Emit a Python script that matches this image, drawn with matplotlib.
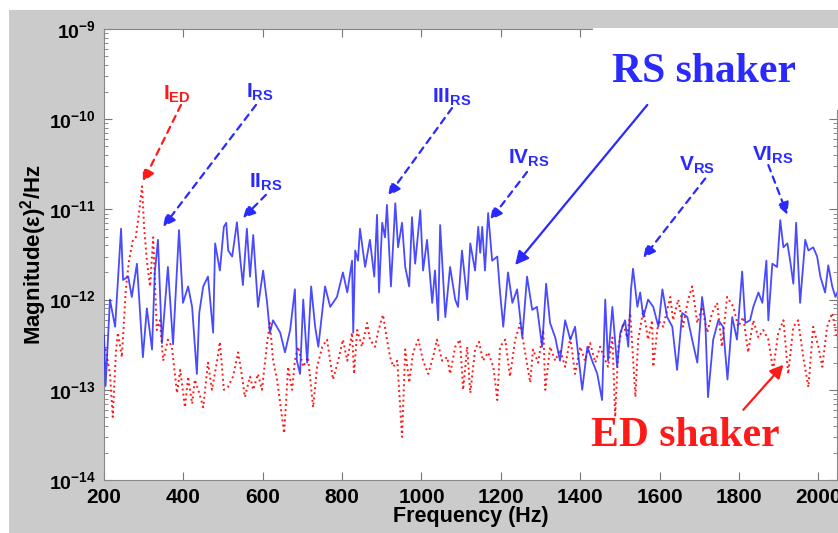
import numpy as np
import matplotlib
matplotlib.use("Agg")
import matplotlib.pyplot as plt
from matplotlib.ticker import FixedLocator, FuncFormatter, LogLocator, NullFormatter
from matplotlib.patches import Rectangle

plt.rcParams['font.family'] = ['Liberation Sans', 'DejaVu Sans']
plt.rcParams['mathtext.fontset'] = 'custom'
plt.rcParams['mathtext.rm'] = 'Liberation Sans:bold'
plt.rcParams['mathtext.bf'] = 'Liberation Sans:bold'
plt.rcParams['mathtext.it'] = 'Liberation Sans:bold'

# RS shaker spectrum (blue, solid)
rs_freq = [200, 204, 215, 228, 243, 248, 261, 270, 283, 298, 308, 321, 328, 336, 346,
           361, 374, 389, 399, 412, 422, 434, 440, 450, 462, 475, 480, 492, 502, 508,
           513, 523, 535, 543, 550, 560, 568, 576, 588, 601, 611, 618, 626, 644, 656,
           669, 681, 686, 694, 702, 712, 722, 732, 740, 757, 770, 777, 787, 802, 813,
           825, 828, 833, 840, 845, 858, 870, 881, 888, 893, 901, 908, 913, 923, 934,
           941, 951, 959, 969, 976, 984, 997, 1004, 1014, 1027, 1034, 1042, 1047, 1060, 1072,
           1085, 1092, 1102, 1115, 1123, 1135, 1143, 1148, 1153, 1160, 1168, 1178, 1191, 1198, 1206,
           1218, 1229, 1241, 1254, 1266, 1279, 1291, 1304, 1314, 1324, 1337, 1349, 1362, 1375, 1387,
           1405, 1418, 1430, 1443, 1455, 1463, 1470, 1481, 1493, 1501, 1513, 1521, 1528, 1533, 1544,
           1551, 1559, 1571, 1584, 1597, 1607, 1619, 1632, 1644, 1657, 1670, 1682, 1695, 1707, 1715,
           1722, 1735, 1748, 1760, 1771, 1783, 1795, 1808, 1816, 1828, 1836, 1849, 1859, 1869, 1874,
           1884, 1896, 1904, 1912, 1922, 1929, 1937, 1944, 1954, 1967, 1975, 1987, 1997, 2005, 2017,
           2025, 2035, 2043, 2048]
rs_mag = [4.0e-13, 1.1e-13, 1.0e-12, 5.0e-13, 6.1e-12, 1.65e-12, 1.8e-12, 1.07e-12, 2.5e-12, 2.3e-13,
          8.0e-13, 2.8e-13, 2.0e-12, 4.6e-12, 3.3e-13, 2.3e-12, 3.2e-13, 5.9e-12, 9.2e-13, 1.4e-12,
          8.3e-13, 1.5e-13, 7.1e-13, 1.4e-12, 1.8e-12, 4.3e-13, 4.2e-12, 2.1e-12, 6.4e-12, 7.1e-12,
          3.5e-12, 3.0e-12, 7.2e-12, 2.9e-12, 1.45e-12, 6.1e-12, 1.8e-12, 5.2e-12, 8.3e-13, 2.1e-12,
          9.2e-13, 4.3e-13, 5.9e-13, 4.3e-13, 2.6e-13, 4.6e-13, 1.3e-12, 2.1e-13, 1.5e-13, 1.0e-12,
          2.0e-13, 1.4e-12, 5.0e-13, 3.0e-13, 1.4e-12, 8.3e-13, 9.2e-13, 1.07e-12, 2.0e-12, 1.2e-12,
          2.7e-12, 4.3e-13, 3.5e-12, 2.7e-12, 6.1e-12, 2.3e-12, 4.6e-12, 1.8e-12, 8.7e-12, 1.2e-12,
          7.1e-12, 4.9e-12, 1.12e-11, 1.4e-12, 1.17e-11, 3.8e-12, 7.1e-12, 2.3e-12, 1.4e-12, 8.2e-12,
          2.5e-12, 9.8e-12, 2.1e-12, 4.6e-12, 9.2e-13, 2.1e-12, 5.9e-13, 6.7e-12, 6.4e-13, 2.3e-12,
          1.0e-12, 8.3e-13, 3.5e-12, 1.0e-12, 4.2e-12, 2.1e-12, 6.4e-12, 3.3e-12, 6.4e-12, 2.1e-12,
          9.1e-12, 2.7e-12, 3.0e-12, 1.2e-12, 5.0e-13, 2.0e-12, 9.2e-13, 1.3e-12, 3.8e-13, 1.8e-12,
          7.7e-13, 8.3e-13, 3.0e-13, 1.5e-12, 5.5e-13, 3.8e-13, 2.1e-13, 5.9e-13, 3.6e-13, 5.0e-13,
          1.0e-13, 3.0e-13, 2.1e-13, 1.5e-13, 7.7e-14, 1.0e-12, 2.1e-13, 8.3e-13, 1.8e-13, 4.3e-13,
          5.9e-13, 3.0e-13, 1.3e-12, 2.2e-12, 8.3e-13, 1.2e-12, 6.4e-13, 1.0e-12, 8.3e-13, 5.0e-13,
          1.3e-12, 6.4e-13, 5.0e-13, 1.66e-13, 7.1e-13, 6.4e-13, 3.6e-13, 2.0e-13, 1.07e-12, 5.9e-13,
          8.3e-14, 3.6e-13, 5.9e-13, 5.0e-13, 1.3e-13, 6.4e-13, 3.6e-13, 2.05e-12, 5.5e-13, 5.9e-13,
          8.3e-13, 1.2e-12, 9.2e-13, 2.7e-12, 5.9e-13, 2.5e-12, 2.3e-12, 7.6e-12, 3.8e-12, 4.2e-12,
          2.7e-12, 1.5e-12, 7.1e-12, 9.2e-13, 4.6e-12, 3.5e-12, 3.8e-12, 3.0e-12, 1.8e-12, 1.2e-12,
          2.4e-12, 1.4e-12, 1.07e-12, 1.2e-12]

# ED shaker spectrum (red, dotted)
ed_freq = [200, 203, 215, 222, 230, 235, 245, 255, 263, 273, 280, 286, 296, 301, 308,
           316, 324, 333, 341, 349, 361, 371, 384, 392, 404, 412, 422, 429, 440, 450,
           462, 472, 485, 492, 502, 512, 525, 538, 548, 555, 568, 576, 588, 598, 611,
           618, 626, 636, 644, 654, 664, 674, 681, 689, 702, 714, 727, 737, 750, 762,
           770, 777, 790, 802, 813, 825, 830, 838, 850, 863, 870, 883, 890, 903, 913,
           921, 929, 939, 951, 959, 969, 979, 992, 1004, 1017, 1029, 1039, 1052, 1065, 1072,
           1085, 1097, 1105, 1115, 1123, 1135, 1145, 1155, 1168, 1181, 1191, 1198, 1211, 1223, 1236,
           1249, 1261, 1274, 1281, 1294, 1307, 1312, 1324, 1337, 1349, 1362, 1375, 1387, 1400, 1412,
           1425, 1438, 1450, 1460, 1470, 1481, 1488, 1496, 1508, 1518, 1526, 1539, 1546, 1559, 1571,
           1581, 1584, 1597, 1609, 1627, 1634, 1647, 1659, 1672, 1682, 1695, 1707, 1720, 1732, 1745,
           1757, 1770, 1786, 1798, 1811, 1823, 1836, 1849, 1861, 1874, 1886, 1899, 1912, 1924, 1937,
           1949, 1962, 1975, 1987, 2000, 2010, 2022, 2035, 2048]
ed_mag = [2.8e-13, 3.0e-13, 1.5e-13, 5.0e-14, 2.6e-13, 4.3e-13, 2.3e-13, 1.3e-12, 2.7e-12, 4.6e-12,
          4.9e-12, 7.6e-12, 1.8e-11, 6.4e-12, 2.7e-12, 1.4e-12, 4.9e-12, 4.6e-13, 5.9e-13, 2.1e-13,
          3.6e-13, 3.0e-13, 9.2e-14, 1.66e-13, 6.4e-14, 1.4e-13, 7.0e-14, 1.3e-13, 9.2e-14, 6.4e-14,
          2.0e-13, 1.0e-13, 2.1e-13, 3.4e-13, 1.0e-13, 1.07e-13, 1.4e-13, 2.6e-13, 1.4e-13, 8.3e-14,
          1.4e-13, 1.0e-13, 1.5e-13, 1.0e-13, 3.3e-13, 5.5e-13, 2.1e-13, 1.3e-13, 7.0e-14, 3.3e-14,
          1.8e-13, 1.0e-13, 2.1e-13, 3.0e-13, 1.8e-13, 2.3e-13, 6.4e-14, 1.8e-13, 3.0e-13, 3.6e-13,
          2.1e-13, 1.3e-13, 2.1e-13, 3.6e-13, 2.1e-13, 4.3e-13, 1.5e-13, 4.6e-13, 3.0e-13, 5.5e-13,
          3.6e-13, 3.0e-13, 4.3e-13, 6.8e-13, 3.6e-13, 2.3e-13, 1.8e-13, 2.1e-13, 3.0e-14, 2.8e-13,
          1.2e-13, 2.6e-13, 3.6e-13, 2.1e-13, 1.5e-13, 2.3e-13, 3.6e-13, 2.1e-13, 2.3e-13, 1.5e-13,
          3.0e-13, 3.6e-13, 1.0e-13, 3.0e-13, 9.2e-14, 2.8e-13, 3.4e-13, 2.1e-13, 2.6e-13, 1.8e-13,
          7.7e-14, 3.0e-13, 3.6e-13, 1.4e-13, 3.6e-13, 5.5e-13, 2.6e-13, 1.2e-13, 2.8e-13, 2.0e-13,
          4.6e-13, 1.0e-13, 3.0e-13, 2.1e-13, 2.8e-13, 1.8e-13, 3.8e-13, 1.5e-13, 3.0e-13, 2.1e-13,
          3.3e-13, 2.0e-13, 3.0e-13, 2.3e-13, 1.8e-13, 3.8e-13, 5.0e-14, 3.0e-13, 5.5e-13, 3.8e-13,
          7.1e-13, 8.3e-14, 3.6e-13, 7.7e-13, 3.6e-13, 5.9e-13, 1.8e-13, 5.9e-13, 5.0e-13, 1.07e-12,
          5.9e-13, 1.0e-12, 5.0e-13, 1.0e-12, 1.4e-12, 5.5e-13, 8.3e-13, 4.3e-13, 7.1e-13, 9.2e-13,
          3.0e-13, 1.07e-12, 8.3e-13, 5.0e-13, 6.4e-13, 2.6e-13, 5.9e-13, 3.8e-13, 4.6e-13, 3.6e-13,
          1.66e-13, 4.3e-13, 5.9e-13, 1.5e-13, 5.0e-13, 5.9e-13, 2.3e-13, 1.07e-13, 5.0e-13, 3.0e-13,
          1.8e-13, 5.0e-13, 7.1e-13, 3.6e-13]

x_ticks = [200, 400, 600, 800, 1000, 1200, 1400, 1600, 1800, 2000]
y_ticks = [1e-14, 1e-13, 1e-12, 1e-11, 1e-10, 1e-9]

blue = '#2a2aff'
red = '#ff1a1a'

fig = plt.figure(figsize=(8.38, 5.33), dpi=100, facecolor='white')
# gray figure panel (white strip left and top as in the screenshot)
fig.patches.append(Rectangle((9 / 838, 0), 1, 1 - 10 / 533, transform=fig.transFigure,
                             facecolor='#cbcbcb', edgecolor='none', zorder=-10))
ax = fig.add_axes([104 / 838, 1 - 480 / 533, 733 / 838, 451 / 533])

ax.plot(rs_freq, rs_mag, color=blue, lw=1.3, alpha=0.85, zorder=3)
ax.plot(ed_freq, ed_mag, color=red, lw=1.4, ls=':', zorder=2)

ax.set_yscale('log')
ax.set_xlim(200, 2047)
ax.set_ylim(1e-14, 1e-9)
ax.xaxis.set_major_locator(FixedLocator(x_ticks))
ax.yaxis.set_major_locator(FixedLocator(y_ticks))
ax.yaxis.set_minor_locator(LogLocator(base=10, subs=np.arange(2, 10)))
ax.yaxis.set_minor_formatter(NullFormatter())
ax.yaxis.set_major_formatter(FuncFormatter(lambda v, p: r'$\mathbf{10^{%d}}$' % round(np.log10(v))))
ax.tick_params(which='both', direction='in', top=True, right=True, color='#777777')
ax.tick_params(which='major', length=6)
ax.tick_params(which='minor', length=3)
ax.tick_params(axis='x', labelsize=15, pad=6)
ax.tick_params(axis='y', labelsize=14, pad=6)
for lab in ax.get_xticklabels():
    lab.set_fontweight('bold')
for sp in ax.spines.values():
    sp.set_color('#888888')

ax.set_xlabel('Frequency (Hz)', fontsize=15.5, fontweight='bold')
ax.xaxis.set_label_coords(0.5, -0.057)
ax.set_ylabel(r'Magnitude(ε)$^{2}$/Hz', fontsize=16, fontweight='bold')
ax.yaxis.set_label_coords(-0.075, 0.5)

# white box behind "RS shaker" that hides the upper-right frame
ax.add_patch(Rectangle((0.667, 0.82), 0.34, 0.182, transform=ax.transAxes, facecolor='white',
                       edgecolor='none', zorder=5, clip_on=False))

dash = dict(arrowstyle='-|>', linestyle=(0, (3, 2.5)), lw=1.6, mutation_scale=18, shrinkA=0, shrinkB=0)

ax.annotate('', xy=(298, 2.0e-11), xytext=(394, 1.44e-10),
            arrowprops=dict(color=red, **dash), zorder=6)
ax.text(384, 1.9e-10, r'$\mathbf{I}_{\mathbf{ED}}$', color=red, fontsize=15, ha='center', va='center', zorder=6)

ax.annotate('', xy=(349, 6.4e-12), xytext=(583, 1.44e-10),
            arrowprops=dict(color=blue, **dash), zorder=6)
ax.text(593, 2.0e-10, r'$\mathbf{I}_{\mathbf{RS}}$', color=blue, fontsize=15, ha='center', va='center', zorder=6)

ax.annotate('', xy=(550, 8.0e-12), xytext=(608, 1.45e-11),
            arrowprops=dict(color=blue, **dash), zorder=6)
ax.text(608, 2.0e-11, r'$\mathbf{II}_{\mathbf{RS}}$', color=blue, fontsize=15, ha='center', va='center', zorder=6)

ax.annotate('', xy=(916, 1.41e-11), xytext=(1077, 1.33e-10),
            arrowprops=dict(color=blue, **dash), zorder=6)
ax.text(1075, 1.75e-10, r'$\mathbf{III}_{\mathbf{RS}}$', color=blue, fontsize=15, ha='center', va='center', zorder=6)

ax.annotate('', xy=(1173, 7.6e-12), xytext=(1266, 2.6e-11),
            arrowprops=dict(color=blue, **dash), zorder=6)
ax.text(1270, 3.7e-11, r'$\mathbf{IV}_{\mathbf{RS}}$', color=blue, fontsize=15, ha='center', va='center', zorder=6)

ax.annotate('', xy=(1559, 2.9e-12), xytext=(1715, 2.2e-11),
            arrowprops=dict(color=blue, **dash), zorder=6)
ax.text(1695, 3.1e-11, r'$\mathbf{V}_{\mathbf{RS}}$', color=blue, fontsize=15, ha='center', va='center', zorder=6)

ax.annotate('', xy=(1922, 8.7e-12), xytext=(1874, 3.1e-11),
            arrowprops=dict(color=blue, **dash), zorder=6)
ax.text(1885, 4.0e-11, r'$\mathbf{VI}_{\mathbf{RS}}$', color=blue, fontsize=15, ha='center', va='center', zorder=6)

solid = dict(arrowstyle='-|>', lw=1.6, mutation_scale=20, shrinkA=0, shrinkB=0)
ax.annotate('', xy=(1236, 2.42e-12), xytext=(1569, 1.44e-10),
            arrowprops=dict(color=blue, **solid), zorder=6)
ax.text(1712, 3.3e-10, 'RS shaker', color=blue, fontsize=30, fontweight='bold',
        family='Liberation Serif', ha='center', va='center', zorder=7)

ax.annotate('', xy=(1912, 1.9e-13), xytext=(1811, 6.0e-14),
            arrowprops=dict(color=red, **solid), zorder=6)
ax.text(1665, 3.1e-14, 'ED shaker', color=red, fontsize=30, fontweight='bold',
        family='Liberation Serif', ha='center', va='center', zorder=7)

fig.savefig('out.png', dpi=100, facecolor=fig.get_facecolor())
